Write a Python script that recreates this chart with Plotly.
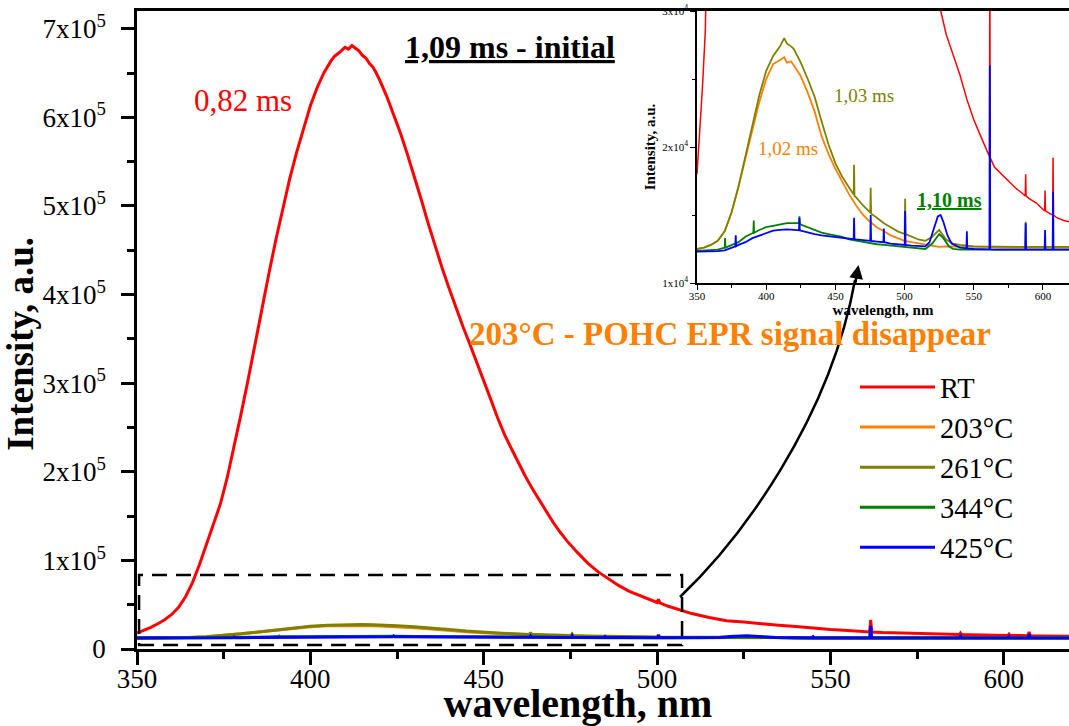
import plotly.graph_objects as go

# ---------------- data ----------------
red_wl = [350,352,354,356,358,360,362,364,366,368,370,372,374,376,378,380,382,384,386,388,
          390,392,394,396,398,400,402,404,406,407,408,409,410,411,412,413,414,415,416,417,
          418,419,420,422,424,426,428,430,432,434,436,438,440,442,444,446,448,450,452,454,
          456,458,460,462,464,466,468,470,472,474,477,480,483,486,489,492,495,498,500,500.4,
          500.8,503,506,510,515,520,525,530,535,540,545,550,555,560,561.3,561.6,561.9,565,570,575,
          580,585,587.2,587.5,587.8,590,595,600,601.2,601.5,601.8,605,607,607.3,607.6,610,615,619]
red_int = [18000,21000,24500,28500,33000,39000,47000,59000,75000,95000,117000,139000,163000,193000,228000,265000,303000,344000,384000,423000,
           461000,497000,530000,560000,588000,613000,634000,651000,664000,669000,672000,676000,679000,677000,681000,678000,675000,670000,667000,661000,
           657000,650000,642000,624000,604000,582000,558000,533000,507000,480000,454000,430000,407000,385000,364000,344000,324000,303000,282000,261000,
           242000,226000,210000,195000,181000,168000,155000,143000,132000,122000,109000,97000,87000,79000,71500,65000,60000,55500,52500,56000,
           52000,48500,44500,40000,35500,32000,30500,28300,26800,25300,23500,22000,20800,19500,19300,33000,19200,18500,18000,17500,
           17000,16600,16400,18000,16400,16200,15900,15400,15300,16800,15300,15100,15000,19200,15000,14800,14600,14500]

orange_wl = [350,355,360,365,370,375,380,385,390,395,400,405,410,413,415,418,420,425,430,435,
             440,445,450,455,460,465,470,475,480,485,490,495,500,505,510,515,520,525,530,540,
             550,560,570,580,590,600,610,619]
orange_int = [12500,12600,12800,13100,13800,15200,17100,19200,21300,23300,25000,26100,26400,26600,26200,26300,26000,25200,24000,22600,
              20800,19500,18400,17400,16500,15700,15000,14500,14100,13800,13500,13300,13100,13000,12900,12800,12700,12650,12700,12700,
              12650,12650,12600,12600,12600,12600,12600,12600]

olive_wl = [350,355,360,365,370,375,380,385,390,395,400,405,410,413,415,418,420,425,430,435,
            440,445,450,455,460,463.2,463.5,463.8,465,470,475,475.2,475.5,475.8,480,485,490,495,500,500.1,
            500.4,500.7,505,510,515,520,525,530,535,540,550,560,570,580,587.2,587.5,587.8,590,600,610,619]
olive_int = [12500,12600,12800,13100,13800,15200,17100,19300,21500,23800,25600,26700,27400,28000,27600,27400,27200,26200,25000,23700,
             21900,20200,18800,17800,17000,16500,18700,16400,16300,15700,15200,15200,17000,15100,14800,14400,14100,13800,13600,13600,
             16200,13600,13400,13200,13100,13400,13900,13200,12900,12800,12700,12700,12650,12650,12650,14500,12650,12650,12650,12650,12650]

green_wl = [350,355,360,365,370,370.3,370.6,375,380,385,390,390.7,391,391.3,395,400,405,410,415,420,
            423.7,424,424.3,425,430,435,440,445,450,455,460,465,470,475,480,485,490,495,500,505,
            510,515,520,525,528,532,535,540,550,560,570,580,590,600,610,619]
green_int = [12360,12400,12400,12450,12600,13300,12600,12800,13000,13400,13700,13700,14600,13700,13900,14100,14200,14300,14400,14400,
             14400,14900,14400,14300,14100,13900,13700,13600,13500,13400,13200,13100,13000,12900,12850,12800,12750,12700,12650,12600,
             12550,12500,12900,13600,13300,12700,12500,12450,12450,12450,12450,12450,12450,12450,12450,12450]

blue_wl = [350,355,360,365,370,375,377.7,378,378.3,380,385,390,395,400,405,410,415,420,423.7,424,
           424.3,425,430,435,440,445,450,455,460,463.2,463.5,463.8,465,470,475,475.2,475.5,475.8,480,484.7,
           485,485.3,490,495,500,500.1,500.4,500.7,505,510,515,518,521,524,526,528,531,534,540,544.7,
           545,545.3,550,555,560,561.3,561.6,561.9,565,570,580,587.2,587.5,587.8,590,600,601.2,601.5,601.8,605,
           607,607.3,607.6,610,619]
blue_int = [12300,12300,12300,12350,12400,12600,12700,13500,12700,12800,13000,13300,13500,13700,13850,13900,13950,13900,13870,14800,
            13870,13850,13700,13600,13500,13450,13350,13300,13250,13220,14800,13220,13200,13150,13100,13100,15000,13100,13050,13000,
            14000,13000,12900,12850,12800,12800,15300,12800,12750,12700,12700,13000,14000,14900,15000,14500,13500,12900,12600,12550,
            13800,12550,12500,12480,12470,12470,26000,12470,12460,12460,12450,12450,14400,12450,12450,12450,12450,13900,12450,12450,
            12450,16700,12450,12450,12450]

series_names = ["RT", "203°C", "261°C", "344°C", "425°C"]
series_colors = ["#FF0000", "#FF8000", "#808000", "#008000", "#0000FF"]
series_wl = [red_wl, orange_wl, olive_wl, green_wl, blue_wl]
series_int = [red_int, orange_int, olive_int, green_int, blue_int]

main_yticks = [0, 100000, 200000, 300000, 400000, 500000, 600000, 700000]
main_ytext = ["0"] + [f"{i}x10<sup>5</sup>" for i in range(1, 8)]
inset_yticks = [10000, 20000, 30000]
inset_ytext = ["1x10<sup>4</sup>", "2x10<sup>4</sup>", "3x10<sup>4</sup>"]

for w, v in zip(series_wl, series_int):
    assert len(w) == len(v)

FONT = "Liberation Serif"

fig = go.Figure()
for i, (name, col, w, v) in enumerate(zip(series_names, series_colors, series_wl, series_int)):
    fig.add_trace(go.Scatter(x=w, y=v, mode="lines", name=name, legendgroup=f"g{i}",
                             line=dict(color=col, width=3), xaxis="x", yaxis="y"))
for i, (name, col, w, v) in enumerate(zip(series_names, series_colors, series_wl, series_int)):
    fig.add_trace(go.Scatter(x=w, y=v, mode="lines", name=name, legendgroup=f"g{i}",
                             showlegend=False, line=dict(color=col, width=1.8 if i else 1.5),
                             xaxis="x2", yaxis="y2"))

W, H = 1069, 726
PL, PR, PT, PB = 137, 1069, 11, 649          # plot area in pixels
ML, MR, MT, MB = PL, W - PR, PT, H - PB

axis_common = dict(showline=True, linecolor="black", showgrid=False, zeroline=False,
                   ticks="outside", tickcolor="black", automargin=False)

fig.update_layout(
    width=W, height=H,
    margin=dict(l=ML, r=MR, t=MT, b=MB, autoexpand=False),
    paper_bgcolor="white", plot_bgcolor="white",
    font=dict(family=FONT, color="black"),
    xaxis=dict(domain=[0, 1], range=[350, 618.8], linewidth=2.5, mirror=True,
               ticklen=13, tickwidth=2.5, tick0=350, dtick=50, ticklabelstandoff=-9,
               minor=dict(ticks="outside", ticklen=7, tickwidth=2.5, tick0=350, dtick=25, tickcolor="black"),
               tickfont=dict(size=27, family=FONT),
               title=dict(text="<b>wavelength, nm</b>" + "&nbsp;" * 5, font=dict(size=40, family=FONT), standoff=16),
               **axis_common),
    yaxis=dict(domain=[0, 1], range=[0, 720000], linewidth=2.5,
               tickmode="array", tickvals=main_yticks, ticktext=main_ytext,
               ticklen=13, tickwidth=2.5, ticklabelstandoff=10,
               minor=dict(tickmode="linear", ticks="outside", ticklen=7, tickwidth=2.5, tick0=0, dtick=50000, tickcolor="black"),
               tickfont=dict(size=27, family=FONT),
               title=dict(text="<b>Intensity, a.u.</b>" + "&nbsp;" * 3, font=dict(size=37, family=FONT), standoff=0),
               **axis_common),
    xaxis2=dict(domain=[(697 - PL) / (PR - PL), 1.0], anchor="y2", range=[350, 618.8], linewidth=1.5, mirror=True,
                ticklen=5, tickwidth=1, tick0=350, dtick=50, ticklabelstandoff=-3,
                minor=dict(ticks="outside", ticklen=3, tickwidth=1, tick0=350, dtick=25, tickcolor="black"),
                tickfont=dict(size=11, family=FONT),
                title=dict(text="<b>wavelength, nm</b>", font=dict(size=15, family=FONT), standoff=0),
                **axis_common),
    yaxis2=dict(domain=[(PB - 283) / (PB - PT), 1.0], anchor="x2", range=[10000, 30000], linewidth=1.5,
                tickmode="array", tickvals=inset_yticks, ticktext=inset_ytext,
                ticklen=5, tickwidth=1,
                minor=dict(tickmode="linear", ticks="outside", ticklen=3, tickwidth=1, tick0=10000, dtick=5000, tickcolor="black"),
                tickfont=dict(size=11, family=FONT),
                title=dict(text="<b>Intensity, a.u.</b>", font=dict(size=15, family=FONT), standoff=3),
                **axis_common),
    showlegend=True,
    legend=dict(x=(855 - PL) / (PR - PL), y=(PB - 362) / (PB - PT), xanchor="left", yanchor="top",
                font=dict(size=28.5, family=FONT), bgcolor="rgba(0,0,0,0)", tracegroupgap=0, itemwidth=75,
                itemclick=False, itemdoubleclick=False),
)


def px_to_paper(px, py):
    return (px - PL) / (PR - PL), (PB - py) / (PB - PT)


# dashed zoom box
fig.add_shape(type="rect", xref="x", yref="y", x0=350.6, x1=507.2, y0=4500, y1=83500,
              line=dict(color="black", width=2.5, dash="15px,9px"))

# curved arrow from box to inset
p0 = px_to_paper(680, 597)
c1 = px_to_paper(740, 540)
c2 = px_to_paper(830, 420)
p3 = px_to_paper(855, 280)
fig.add_shape(type="path", xref="paper", yref="paper",
              path=f"M {p0[0]},{p0[1]} C {c1[0]},{c1[1]} {c2[0]},{c2[1]} {p3[0]},{p3[1]}",
              line=dict(color="black", width=2.5))
tip = px_to_paper(858.5, 265)
fig.add_annotation(x=tip[0], y=tip[1], xref="paper", yref="paper", text="", showarrow=True,
                   ax=-3.5, ay=20, arrowhead=2, arrowsize=1.1, arrowwidth=2.5, arrowcolor="black")

# text annotations
fig.add_annotation(x=380.6, y=619000, xref="x", yref="y", text="0,82 ms", showarrow=False,
                   font=dict(size=31, color="#FF0000", family=FONT))
fig.add_annotation(x=457.6, y=679000, xref="x", yref="y", text="<b><u>1,09 ms - initial</u></b>", showarrow=False,
                   font=dict(size=32, color="black", family=FONT))
fig.add_annotation(x=521, y=356000, xref="x", yref="y", text="<b>203°C - POHC EPR signal disappear</b>", showarrow=False,
                   font=dict(size=33, color="#FF8000", family=FONT))
fig.add_annotation(x=470.7, y=23800, xref="x2", yref="y2", text="1,03 ms", showarrow=False,
                   font=dict(size=19, color="#808000", family=FONT))
fig.add_annotation(x=415.8, y=19900, xref="x2", yref="y2", text="1,02 ms", showarrow=False,
                   font=dict(size=19, color="#FF8000", family=FONT))
fig.add_annotation(x=532.8, y=16100, xref="x2", yref="y2", text="<b><u>1,10 ms</u></b>", showarrow=False,
                   font=dict(size=20, color="#008000", family=FONT))

fig.write_html("out.html", config={"displayModeBar": False},
               post_script="document.body.style.margin='0';document.body.style.overflow='hidden';")
